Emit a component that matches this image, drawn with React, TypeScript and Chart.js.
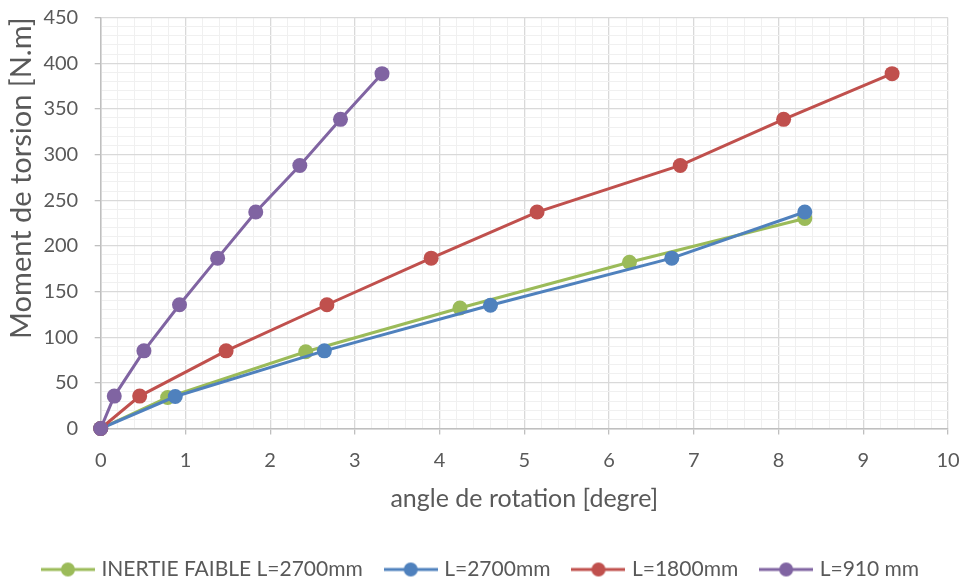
import React, { useEffect, useRef } from "react";
import { Chart, registerables } from "chart.js";

Chart.register(...registerables);

const seriesNames = ["INERTIE FAIBLE L=2700mm", "L=2700mm", "L=1800mm", "L=910 mm"];
const seriesColors = ["#9BBB59", "#4F81BD", "#C0504D", "#8064A2"];

const greenX = [0, 0.79, 2.42, 4.24, 6.24, 8.31];
const greenY = [0, 34, 84, 132, 182, 230];
const blueX = [0, 0.88, 2.64, 4.6, 6.74, 8.31];
const blueY = [0, 35, 85, 135, 186.5, 237];
const redX = [0, 0.46, 1.48, 2.67, 3.9, 5.15, 6.84, 8.06, 9.34];
const redY = [0, 35.5, 85, 135.5, 186.5, 237, 288, 338.5, 388.5];
const purpleX = [0, 0.16, 0.51, 0.93, 1.38, 1.83, 2.35, 2.83, 3.32];
const purpleY = [0, 35.5, 85, 135.5, 186.5, 237, 288, 338.5, 388.5];

const xTitle = "angle de rotation [degre]";
const yTitle = "Moment de torsion [N.m]";

const FONT = "Lato, 'Open Sans', sans-serif";
const TEXT = "#595959";

function legendMarker(color: string) {
  const c = document.createElement("canvas");
  c.width = 54;
  c.height = 16;
  const ctx = c.getContext("2d")!;
  ctx.strokeStyle = color;
  ctx.lineWidth = 3;
  ctx.beginPath();
  ctx.moveTo(0, 8);
  ctx.lineTo(54, 8);
  ctx.stroke();
  ctx.fillStyle = color;
  ctx.beginPath();
  ctx.arc(27, 8, 7, 0, Math.PI * 2);
  ctx.fill();
  return c;
}

const isMult = (v: number, m: number) => Math.abs(v / m - Math.round(v / m)) < 1e-6;

const LEFT_PAD = 4;
const AXIS_LEFT = 100.7;

export default function App() {
  const ref = useRef<HTMLCanvasElement>(null);
  useEffect(() => {
    document.body.style.margin = "0";
    const xs = [greenX, blueX, redX, purpleX];
    const ys = [greenY, blueY, redY, purpleY];
    const datasets = seriesNames.map((name, i) => ({
      label: name,
      data: xs[i].map((x, j) => ({ x, y: ys[i][j] })),
      borderColor: seriesColors[i],
      backgroundColor: seriesColors[i],
      borderWidth: 3,
      pointRadius: 7.5,
      pointHoverRadius: 7.5,
      pointBorderWidth: 0,
      pointStyle: "circle" as any,
      showLine: true,
      clip: false as any,
      order: 3 - i,
    }));
    const chart = new Chart(ref.current!, {
      type: "scatter",
      data: { datasets },
      options: {
        animation: false,
        responsive: false,
        maintainAspectRatio: false,
        layout: { padding: { left: LEFT_PAD, right: 4, top: 17.5, bottom: -5 } },
        plugins: {
          tooltip: { enabled: false },
          legend: {
            position: "bottom",
            labels: {
              usePointStyle: true,
              pointStyleWidth: 46,
              padding: 25,
              color: TEXT,
              font: { family: FONT, size: 21 },
              generateLabels: (chart: any) =>
                chart.data.datasets.map((d: any, i: number) => ({
                  text: d.label,
                  fillStyle: seriesColors[i],
                  strokeStyle: seriesColors[i],
                  lineWidth: 0,
                  pointStyle: legendMarker(seriesColors[i]),
                  datasetIndex: i,
                  hidden: false,
                  fontColor: TEXT,
                })),
            },
          },
        },
        scales: {
          x: {
            type: "linear",
            min: 0,
            max: 10,
            afterFit: (s: any) => {
              s.paddingLeft = 0;
              s.paddingRight = 16;
            },
            ticks: {
              stepSize: 0.2,
              autoSkip: false,
              maxRotation: 0,
              color: TEXT,
              font: { family: FONT, size: 20 },
              padding: 14,
              callback: (v: any) => (isMult(v, 1) ? String(Math.round(v)) : ""),
            },
            grid: {
              color: (c: any) => (isMult(c.tick.value, 1) ? "#D9D9D9" : "#F0F0F0"),
              tickColor: (c: any) => (isMult(c.tick.value, 1) ? "#BFBFBF" : "rgba(0,0,0,0)"),
              tickLength: 6,
              lineWidth: (c: any) => (isMult(c.tick.value, 1) ? 1.3 : 1),
            },
            border: { color: "#BFBFBF", width: 1.5 },
            title: {
              display: true,
              text: xTitle,
              color: TEXT,
              font: { family: FONT, size: 25 },
              padding: { top: -3, bottom: 20.5 },
            },
          },
          y: {
            type: "linear",
            min: 0,
            max: 450,
            afterFit: (s: any) => {
              s.paddingTop = 0;
              s.paddingBottom = 0;
              s.width = AXIS_LEFT - LEFT_PAD;
            },
            ticks: {
              stepSize: 10,
              autoSkip: false,
              color: TEXT,
              font: { family: FONT, size: 20 },
              padding: 16.5,
              callback: (v: any) => (isMult(v, 50) ? String(Math.round(v)) : ""),
            },
            grid: {
              color: (c: any) => (isMult(c.tick.value, 50) ? "#D9D9D9" : "#F0F0F0"),
              tickColor: (c: any) => (isMult(c.tick.value, 50) ? "#BFBFBF" : "rgba(0,0,0,0)"),
              tickLength: 6,
              lineWidth: (c: any) => (isMult(c.tick.value, 50) ? 1.3 : 1),
            },
            border: { color: "#BFBFBF", width: 1.5 },
            title: {
              display: true,
              text: yTitle,
              align: "end",
              color: TEXT,
              font: { family: FONT, size: 29 },
              padding: { top: 0, bottom: 0 },
            },
          },
        },
      },
    });
    return () => chart.destroy();
  }, []);
  return (
    <div style={{ width: 964, height: 585, background: "#fff" }}>
      <canvas ref={ref} width={964} height={585} style={{ width: 964, height: 585, display: "block" }} />
    </div>
  );
}
